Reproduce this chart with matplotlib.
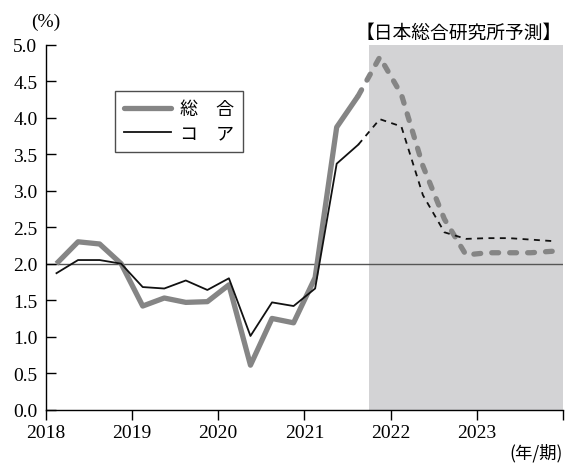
import matplotlib
matplotlib.use("Agg")
import matplotlib.pyplot as plt
import numpy as np
from matplotlib.lines import Line2D

# Data (quarterly, 2018Q1 - 2023Q4); forecast from 2021Q4
years = [2018, 2019, 2020, 2021, 2022, 2023]
quarters_per_year = 4
sogo = [2.00, 2.30, 2.27, 2.00, 1.42, 1.53, 1.47, 1.48, 1.71, 0.61, 1.25, 1.19,
        1.81, 3.87, 4.30, 4.83, 4.32, 3.34, 2.61, 2.12, 2.15, 2.15, 2.15, 2.17]
core = [1.87, 2.05, 2.05, 2.00, 1.68, 1.66, 1.77, 1.64, 1.80, 1.01, 1.47, 1.42,
        1.66, 3.37, 3.63, 3.98, 3.88, 2.94, 2.43, 2.34, 2.35, 2.35, 2.33, 2.31]
n_actual = 15  # through 2021Q3
forecast_start = 2021.75
yticks = [0.0, 0.5, 1.0, 1.5, 2.0, 2.5, 3.0, 3.5, 4.0, 4.5, 5.0]
legend_labels = ["総\u3000合", "コ\u3000ア"]
forecast_label = "【日本総合研究所予測】"
unit_y = "(%)"
unit_x = "(年/期)"

x = np.array([y + (q + 0.5) / quarters_per_year for y in years for q in range(quarters_per_year)])
sogo = np.array(sogo)
core = np.array(core)

jp = ["Noto Sans CJK JP", "DejaVu Sans"]
num_font = "Liberation Serif"

fig = plt.figure(figsize=(5.70, 4.64), dpi=100)
ax = fig.add_axes([0.0802, 0.1149, 0.9075, 0.7866])

ax.axvspan(forecast_start, years[-1] + 1, color="#d3d3d5", lw=0, zorder=0)
ax.axhline(2.0, color="#555555", lw=1.0, zorder=1)

gray = "#858585"
# actual
ax.plot(x[:n_actual], sogo[:n_actual], color=gray, lw=3.8, solid_capstyle="butt", zorder=3)
ax.plot(x[:n_actual], core[:n_actual], color="#111111", lw=1.3, zorder=4)
# forecast
ax.plot(x[n_actual - 1:], sogo[n_actual - 1:], color=gray, lw=3.8, linestyle=(0, (1.3, 2.1)),
        dash_capstyle="round", zorder=3)
ax.plot(x[n_actual - 1:], core[n_actual - 1:], color="#111111", lw=1.3, linestyle=(0, (3.3, 3.0)),
        zorder=4)

ax.set_xlim(years[0], years[-1] + 1)
ax.set_ylim(0, 5)
ax.set_yticks(yticks)
ax.set_yticklabels([f"{v:.1f}" for v in yticks], fontfamily=num_font, fontsize=14)
ax.set_xticks(list(years) + [years[-1] + 1])
ax.set_xticklabels([str(y) for y in years] + [""], fontfamily=num_font, fontsize=14)
ax.tick_params(axis="y", direction="in", length=7, width=1, pad=6)
ax.tick_params(axis="x", direction="out", length=7, width=1, pad=3)
for s in ["top", "right"]:
    ax.spines[s].set_visible(False)
for s in ["left", "bottom"]:
    ax.spines[s].set_linewidth(1.0)

handles = [Line2D([], [], color=gray, lw=3.8, solid_capstyle="round"),
           Line2D([], [], color="#111111", lw=1.3)]
leg = ax.legend(handles, legend_labels, loc="upper left", bbox_to_anchor=(0.134, 0.872),
                prop={"family": jp, "size": 13}, frameon=True, fancybox=False,
                edgecolor="#222222", handlelength=2.6, handletextpad=0.5,
                borderpad=0.5, labelspacing=0.35, borderaxespad=0)
leg.get_frame().set_linewidth(1.0)

fig.text(31 / 570, 1 - 22 / 464, unit_y, fontfamily=num_font, fontsize=14, ha="left", va="center")
fig.text(562 / 570, 1 - 33 / 464, forecast_label, fontfamily=jp, fontsize=13.5, ha="right", va="center")
fig.text(563 / 570, 1 - 453 / 464, unit_x, fontfamily=jp, fontsize=12.5, ha="right", va="center")

fig.savefig("out.png", dpi=100)
